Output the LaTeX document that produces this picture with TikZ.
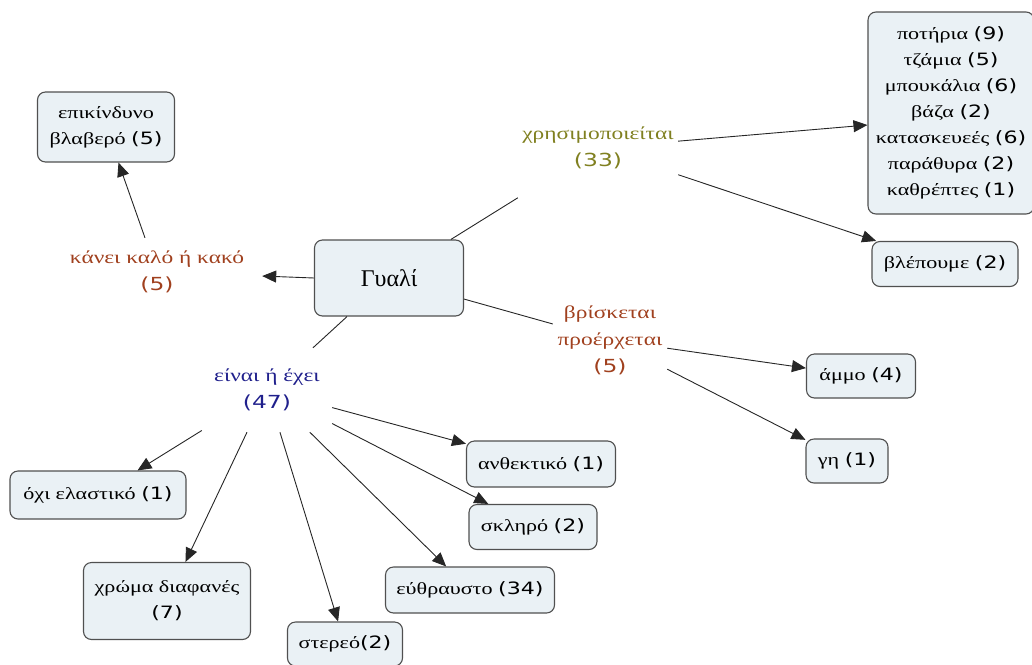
\documentclass[tikz,border=0pt]{standalone}
\usepackage{fontspec}
\setmainfont{Liberation Serif}[FakeStretch=1.3]
\newfontfamily\numfont{DejaVu Sans}[FakeStretch=1.3]
\newfontfamily\titlefont{Liberation Serif}
\usetikzlibrary{arrows.meta}
\definecolor{boxfill}{RGB}{234,241,245}
\definecolor{boxline}{RGB}{80,80,80}
\definecolor{rust}{RGB}{160,64,30}
\definecolor{olive}{RGB}{128,128,32}
\definecolor{navy}{RGB}{32,32,140}
\newcommand\cnt[1]{{\numfont(#1)}}
\tikzset{
  concept/.style={draw=boxline, fill=boxfill, rounded corners=8pt, line width=1.1pt,
    align=center, inner sep=0pt, font=\fontsize{17}{26}\selectfont},
  linkword/.style={align=center, inner sep=0pt, font=\fontsize{18}{27}\selectfont},
  link/.style={line width=0.9pt, draw=black!85},
  linkarrow/.style={link, -{Triangle[length=14pt,width=12pt]}}
}
\begin{document}
\begin{tikzpicture}[x=1pt,y=-1pt]
\useasboundingbox (0,0) rectangle (1032,664);

% concepts
\node[concept, minimum width=149pt, minimum height=76pt, font=\titlefont\fontsize{24}{26}\selectfont] (glass) at (389,278) {Γυαλί};
\node[concept, minimum width=137pt, minimum height=70pt] (harm) at (106,127) {επικίνδυνο\\βλαβερό \cnt{5}};
\node[concept, minimum width=166pt, minimum height=202pt] (list) at (951,113)
  {ποτήρια \cnt{9}\\τζάμια \cnt{5}\\μπουκάλια \cnt{6}\\βάζα \cnt{2}\\κατασκευεές \cnt{6}\\παράθυρα \cnt{2}\\καθρέπτες \cnt{1}};
\node[concept, minimum width=146pt, minimum height=45pt] (see) at (945,264) {βλέπουμε \cnt{2}};
\node[concept, minimum width=109pt, minimum height=44pt] (sand) at (861,376) {άμμο \cnt{4}};
\node[concept, minimum width=82pt, minimum height=44pt] (earth) at (847,461) {γη \cnt{1}};
\node[concept, minimum width=176pt, minimum height=48pt] (notel) at (98,495) {όχι ελαστικό \cnt{1}};
\node[concept, minimum width=167pt, minimum height=77pt] (colour) at (167,601) {χρώμα διαφανές\\\cnt{7}};
\node[concept, minimum width=115pt, minimum height=44pt] (solid) at (345,644) {στερεό\cnt{2}};
\node[concept, minimum width=149pt, minimum height=46pt] (strong) at (541,464) {ανθεκτικό \cnt{1}};
\node[concept, minimum width=128pt, minimum height=45pt] (hard) at (533,527) {σκληρό \cnt{2}};
\node[concept, minimum width=169pt, minimum height=46pt] (fragile) at (470,590) {εύθραυστο \cnt{34}};

% linking phrases
\node[linkword, text=rust, minimum width=210pt, minimum height=68pt] (good) at (157,272) {κάνει καλό ή κακό\\\cnt{5}};
\node[linkword, text=olive, minimum width=160pt, minimum height=100pt] (uses) at (598,148) {χρησιμοποιείται\\\cnt{33}};
\node[linkword, text=rust, minimum width=114pt, minimum height=90pt] (found) at (610,340) {βρίσκεται\\προέρχεται\\\cnt{5}};
\node[linkword, text=navy, minimum width=130pt, minimum height=84pt] (is) at (267,390) {είναι ή έχει\\\cnt{47}};

% connectors
\draw[linkarrow] (glass.west) -- (good);
\draw[linkarrow] (good) -- (harm);
\draw[link] (glass) -- (uses);
\draw[linkarrow] (uses) -- ([yshift=-12pt]list.west);
\draw[linkarrow] (uses) -- (see);
\draw[link] (glass) -- (found);
\draw[linkarrow] (found) -- (sand);
\draw[linkarrow] (found) -- (earth);
\draw[link] (glass) -- (is);
\draw[linkarrow] (is) -- (notel);
\draw[linkarrow] (is) -- (colour);
\draw[linkarrow] (is) -- (solid);
\draw[linkarrow] (is) -- (fragile);
\draw[linkarrow] (is) -- (hard);
\draw[linkarrow] (is) -- (strong);
\end{tikzpicture}
\end{document}
